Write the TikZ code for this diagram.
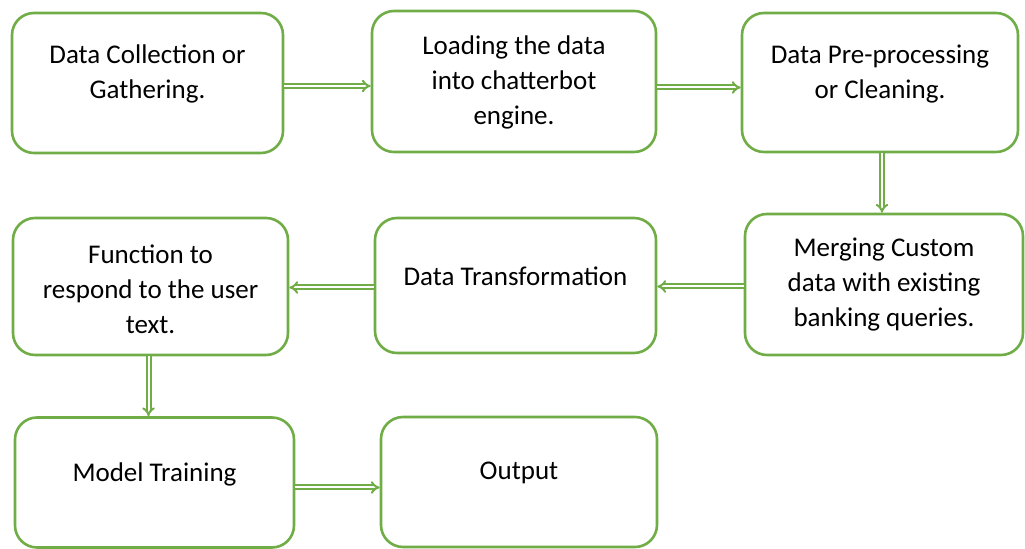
\documentclass[tikz,border=0pt]{standalone}
\usepackage{fontspec}
\setmainfont{Carlito}
\usetikzlibrary{arrows.meta}

\definecolor{boxgreen}{RGB}{112,173,71}

\tikzset{
  stagebox/.style={draw=boxgreen, line width=1.3pt, rounded corners=11pt,
    fill=white, inner sep=0pt},
  stagetext/.style={align=center, inner sep=0pt,
    font=\fontsize{13.5}{17.5}\selectfont},
  flow/.style={draw=boxgreen, double=white, line width=1pt,
    double distance=1pt, -{Implies}},
}

\begin{document}
\begin{tikzpicture}[x=0.5pt,y=-0.5pt]

      \useasboundingbox (0,0) rectangle (1025,549);

      % first row
      \node[stagebox, minimum width=135.5pt, minimum height=70pt]   (gather)    at (147.5,83)   {};
      \node[stagebox, minimum width=142pt,   minimum height=70.5pt] (load)      at (514,81.5)   {};
      \node[stagebox, minimum width=138pt,   minimum height=69.5pt] (clean)     at (880,82.5)   {};

      % second row
      \node[stagebox, minimum width=139pt,   minimum height=70.5pt] (merge)     at (884,284.5)  {};
      \node[stagebox, minimum width=140.5pt, minimum height=67.5pt] (transform) at (515.5,285.5) {};
      \node[stagebox, minimum width=137.5pt, minimum height=68.5pt] (respond)   at (150.5,286.5) {};

      % last row
      \node[stagebox, minimum width=139.5pt, minimum height=65pt]   (train)     at (154.5,482.5) {};
      \node[stagebox, minimum width=138pt,   minimum height=65pt]   (output)    at (519,482)     {};

      % texts
      \node[stagetext] (gathert)    at (147.5,74)   {Data Collection or\\Gathering.};
      \node[stagetext] (loadt)      at (514,82)     {Loading the data\\into chatterbot\\engine.};
      \node[stagetext] (cleant)     at (880,74)     {Data Pre-processing\\or Cleaning.};
      \node[stagetext] (merget)     at (884,285)    {Merging Custom\\data with existing\\banking queries.};
      \node[stagetext] (transformt) at (515.5,276)  {Data Transformation};
      \node[stagetext] (respondt)   at (150.5,289.5) {Function to\\respond to the user\\text.};
      \node[stagetext] (traint)     at (154.5,474)  {Model Training};
      \node[stagetext] (outputt)    at (519,473)    {Output};

      % connections
      \path[flow] ([yshift=-1.5pt]gather.east) -- ([yshift=-1.5pt]gather.east -| load.west);
      \path[flow] ([yshift=-3pt]load.east) -- ([yshift=-3pt]load.east -| clean.west);
      \path[flow] ([xshift=1pt]clean.south) -- ([xshift=1pt]clean.south |- merge.north);
      \path[flow] ([yshift=-1pt]merge.west) -- ([yshift=-1pt]merge.west -| transform.east);
      \path[flow] ([yshift=-1pt]transform.west) -- ([yshift=-1pt]transform.west -| respond.east);
      \path[flow] ([xshift=-1pt]respond.south) -- ([xshift=-1pt]respond.south |- train.north);
      \path[flow] ([yshift=-2.5pt]train.east) -- ([yshift=-2.5pt]train.east -| output.west);

\end{tikzpicture}
\end{document}
